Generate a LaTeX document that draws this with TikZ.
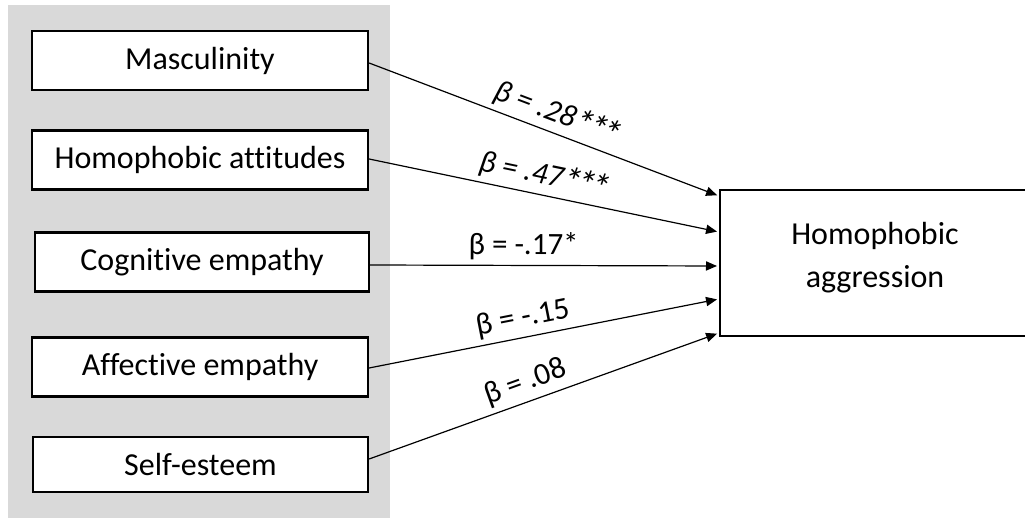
\documentclass[tikz,border=0pt]{standalone}
\usepackage{fontspec}
\setmainfont{Carlito}[Ligatures=NoCommon]
\usetikzlibrary{arrows.meta}
\definecolor{panelgray}{HTML}{D9D9D9}
% three significance stars, a little larger, lower and tighter than the font's own
\newcommand\threestars{\raisebox{-0.3ex}{\scalebox{1.25}{*\kern-0.13em*\kern-0.13em*}}}
\begin{document}
\begin{tikzpicture}[x=0.5pt,y=-0.5pt,
  varbox/.style={draw=black, line width=1.1pt, fill=white, inner sep=0pt,
    minimum width=168pt, minimum height=29.5pt,
    font=\fontsize{16}{19}\selectfont},
  link/.style={-{Triangle[length=5.5pt,width=4.6pt]}, line width=0.6pt,
    shorten >=1pt},
  coef/.style={sloped, anchor=south, inner sep=0pt, outer sep=5.5pt,
    text depth=0pt, font=\fontsize{15.5}{18}\selectfont}]
  \useasboundingbox (0,0) rectangle (1025,518);

  % grey panel behind the predictors
  \fill[panelgray] (8,5) rectangle (390,518);

  % predictors
  \node[varbox] (masc) at (200,60.5) {Masculinity};
  \node[varbox] (hatt) at (200,160) {Homophobic attitudes};
  \node[varbox, minimum width=167pt] (cog) at (202,262) {Cognitive empathy};
  \node[varbox] (aff) at (200,367) {Affective empathy};
  \node[varbox, minimum width=167.5pt, minimum height=27.5pt] (self) at (200.5,464.5) {Self-esteem};

  % outcome (runs past the right edge)
  \node[draw=black, line width=1.1pt, inner sep=0pt, anchor=west,
    minimum width=162pt, minimum height=73pt] (agg) at (719,263) {};
  \node[font=\fontsize{16}{21.5}\selectfont, align=center, inner sep=0pt]
    (aggtext) at (875,258) {Homophobic\\aggression};

  % paths with standardised coefficients
  \draw[link] ([yshift=-1.25pt]masc.east) -- ([yshift=33.5pt]agg.west)
    node[coef, pos=0.52] {\itshape β = .28\threestars};
  \draw[link] ([yshift=0.5pt]hatt.east) -- ([yshift=15.5pt]agg.west)
    node[coef, pos=0.49] {\itshape β = .47\threestars};
  \draw[link] ([yshift=-1.5pt]cog.east) -- ([yshift=-1.5pt]agg.west)
    node[coef, pos=0.44] {β = -.17*};
  \draw[link] ([yshift=-0.5pt]aff.east) -- ([yshift=-18pt]agg.west)
    node[coef, pos=0.45] {β = -.15};
  \draw[link] ([yshift=2.75pt]self.east) -- ([yshift=-35pt]agg.west)
    node[coef, pos=0.465] {β = .08};
\end{tikzpicture}
\end{document}
